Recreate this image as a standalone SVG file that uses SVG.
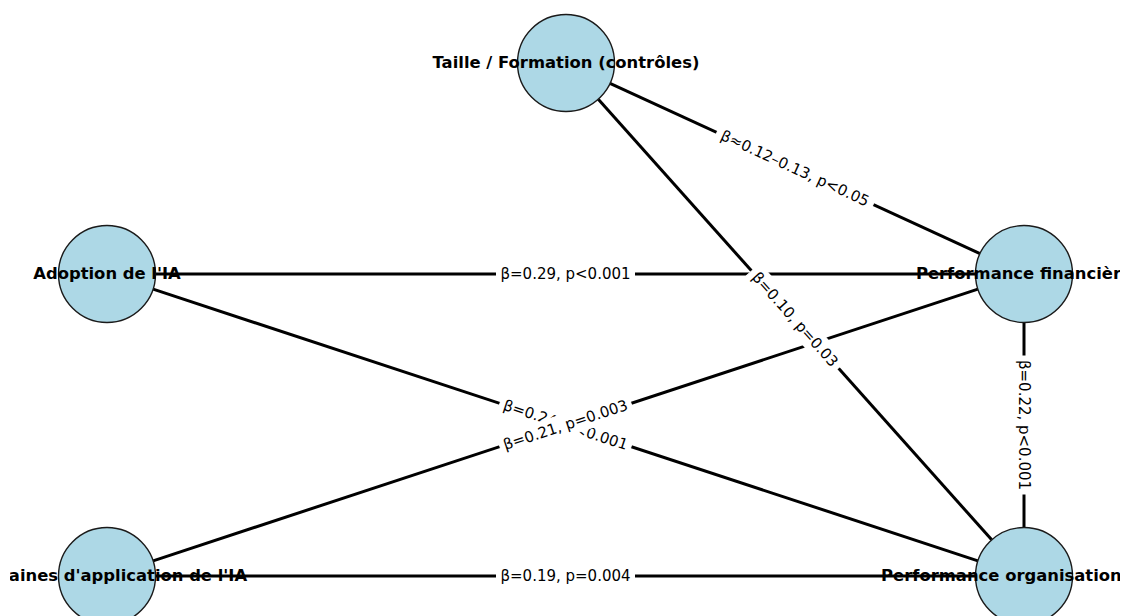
<svg xmlns="http://www.w3.org/2000/svg" width="1124" height="616" viewBox="0 0 1124 616">
<defs>
<clipPath id="frame"><rect x="10" y="0" width="1110" height="616"/></clipPath>
</defs>
<style>
.edge{stroke:#000;stroke-width:3;fill:none}
.node{fill:#add8e6;stroke:#1a1a1a;stroke-width:1.4}
.nl{font-family:"DejaVu Sans",sans-serif;font-weight:bold;font-size:16.4px;fill:#000;text-anchor:middle;dominant-baseline:central}
.el{font-family:"DejaVu Sans",sans-serif;font-size:15px;fill:#000;text-anchor:middle;dominant-baseline:central}
.bx{fill:#fff;stroke:#fff}
</style>
<rect width="1124" height="616" fill="#fff"/>
<g id="connectors">
<line class="edge" x1="155.5" y1="274" x2="975.5" y2="274"/>
<line class="edge" x1="153.1" y1="289.2" x2="977.9" y2="560.8"/>
<line class="edge" x1="153.1" y1="560.8" x2="977.9" y2="289.2"/>
<line class="edge" x1="155.5" y1="576" x2="975.5" y2="576"/>
<line class="edge" x1="610" y1="83.3" x2="980" y2="253.7"/>
<line class="edge" x1="598.3" y1="99.2" x2="991.7" y2="539.8"/>
<line class="edge" x1="1024" y1="322.5" x2="1024" y2="527.5"/>
</g>
<g id="n-taille"><circle class="node" cx="566" cy="63" r="48.5"/></g>
<g id="n-adoption"><circle class="node" cx="107" cy="274" r="48.5"/></g>
<g id="n-perf-fin"><circle class="node" cx="1024" cy="274" r="48.5"/></g>
<g id="n-domaines"><circle class="node" cx="107" cy="576" r="48.5"/></g>
<g id="n-perf-org"><circle class="node" cx="1024" cy="576" r="48.5"/></g>
<g id="node-labels" clip-path="url(#frame)">
<text class="nl" x="566" y="62">Taille / Formation (contrôles)</text>
<text class="nl" x="107" y="273">Adoption de l'IA</text>
<text class="nl" x="1024" y="273">Performance financière</text>
<text class="nl" x="107" y="575">Domaines d'application de l'IA</text>
<text class="nl" x="1024" y="575">Performance organisationnelle</text>
</g>
<g id="edge-labels">
<g transform="translate(565.5,274)"><rect class="bx" x="-69" y="-11" width="138" height="22" rx="4"/><text class="el" x="0" y="0">β=0.29, p&lt;0.001</text></g>
<g transform="translate(565.5,425) rotate(18.23)"><rect class="bx" x="-69" y="-11" width="138" height="22" rx="4"/><text class="el" x="0" y="0">β=0.24, p&lt;0.001</text></g>
<g transform="translate(565.5,425) rotate(-18.23)"><rect class="bx" x="-69" y="-11" width="138" height="22" rx="4"/><text class="el" x="0" y="0">β=0.21, p=0.003</text></g>
<g transform="translate(565.5,576)"><rect class="bx" x="-69" y="-11" width="138" height="22" rx="4"/><text class="el" x="0" y="0">β=0.19, p=0.004</text></g>
<g transform="translate(795,168.5) rotate(24.73)"><rect class="bx" x="-86" y="-11" width="172" height="22" rx="4"/><text class="el" x="0" y="0">β≈0.12–0.13, p&lt;0.05</text></g>
<g transform="translate(795,319.5) rotate(48.25)"><rect class="bx" x="-65" y="-11" width="130" height="22" rx="4"/><text class="el" x="0" y="0">β=0.10, p=0.03</text></g>
<g transform="translate(1024,425) rotate(90)"><rect class="bx" x="-69" y="-11" width="138" height="22" rx="4"/><text class="el" x="0" y="0">β=0.22, p&lt;0.001</text></g>
</g>
</svg>
